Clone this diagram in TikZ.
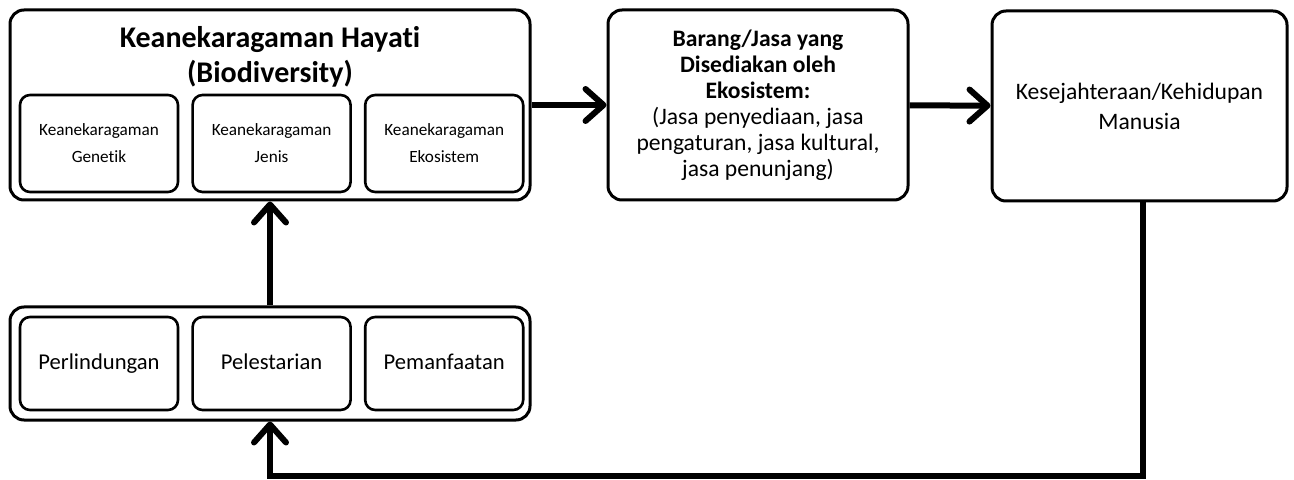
\documentclass[tikz,border=0pt]{standalone}
\usepackage{fontspec}
\setmainfont{Carlito}[Ligatures={NoCommon,NoContextual}]
\usetikzlibrary{positioning,arrows.meta}

\begin{document}
\begin{tikzpicture}[
      x=0.5pt, y=-0.5pt,
      box/.style={draw, line width=1.5pt, rounded corners=7pt, align=center,
                  inner sep=0pt},
      mainbox/.style={box, minimum height=95pt},
      subbox/.style={box, line width=1.3pt, rounded corners=5pt,
                     minimum width=79pt, font=\fontsize{8.6}{13.5}\selectfont},
      actbox/.style={subbox, minimum height=46.5pt, font=\fontsize{11.3}{13}\selectfont,
                     text height=8pt, text depth=2.5pt},
      arr/.style={-{Straight Barb[length=9pt, width=16pt, line cap=round, line join=round]},
                  line width=3pt}
    ]
    \useasboundingbox (0,0) rectangle (1294,480);

    % biodiversity
    \node[mainbox, minimum width=260pt] (bio) at (270,105) {};
    \node[font=\fontsize{15}{17.5}\selectfont\bfseries, align=center] (title) at (270,57)
      {Keanekaragaman Hayati\\(Biodiversity)};
    \node[subbox, minimum height=48.5pt] (gen) at (99,143.5) {Keanekaragaman\\Genetik};
    \node[subbox, minimum height=48.5pt, right=6pt of gen] (jen) {Keanekaragaman\\Jenis};
    \node[subbox, minimum height=48.5pt, right=6pt of jen] (eko) {Keanekaragaman\\Ekosistem};

    % services and welfare
    \node[mainbox, minimum width=150pt, font=\fontsize{11.8}{13}\selectfont] (jasa) at (758,105)
      {\textbf{Barang/Jasa yang}\\\textbf{Disediakan oleh}\\\textbf{Ekosistem:}\\
       (Jasa penyediaan, jasa\\pengaturan, jasa kultural,\\jasa penunjang)};
    \node[mainbox, minimum width=147.5pt, font=\fontsize{11.8}{15}\selectfont] (sejah) at (1139.5,106)
      {Kesejahteraan/Kehidupan\\Manusia};

    % conservation actions
    \node[box, minimum width=260pt, minimum height=56.5pt] (aksi) at (270,363.5) {};
    \node[actbox] (lind) at (99,363.5) {Perlindungan};
    \node[actbox, right=6pt of lind] (lest) {Pelestarian};
    \node[actbox, right=6pt of lest] (manf) {Pemanfaatan};

    \coordinate (c1) at (1143,476);
    \coordinate (c2) at (270,476);

    \draw[arr] (bio) -- (jasa);
    \draw[arr] (jasa) -- (sejah);
    \draw[arr] (aksi) -- (bio);
    \draw[arr, line join=miter] (sejah.south -| c1) -- (c1) -- (c2) -- (aksi.south);
  \end{tikzpicture}
\end{document}
